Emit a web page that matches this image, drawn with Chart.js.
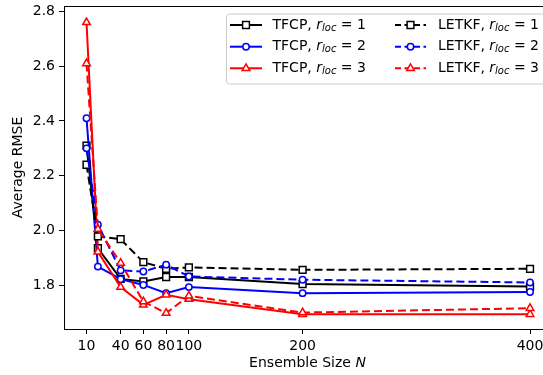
<!DOCTYPE html>
<html>
<head>
<meta charset="utf-8">
<script src="https://cdn.jsdelivr.net/npm/chart.js@4/dist/chart.umd.min.js"></script>
<style>
html, body { margin: 0; padding: 0; overflow: hidden; background: #fff; }
#wrap { width: 543px; height: 375px; }
</style>
</head>
<body>
<div id="wrap"><canvas id="c" width="543" height="375"></canvas></div>
<script>
// data
const ensembleSizes = [10, 20, 40, 60, 80, 100, 200, 400];
const xTicks = [10, 40, 60, 80, 100, 200, 400];
const yTicks = [1.8, 2.0, 2.2, 2.4, 2.6, 2.8];

const tfcpR1 = [2.31, 1.935, 1.823, 1.814, 1.830, 1.830, 1.804, 1.795];
const tfcpR2 = [2.41, 1.868, 1.822, 1.801, 1.771, 1.793, 1.771, 1.775];
const tfcpR3 = [2.76, 1.922, 1.793, 1.728, 1.765, 1.749, 1.694, 1.694];
const letkfR1 = [2.24, 1.978, 1.968, 1.884, 1.860, 1.865, 1.856, 1.860];
const letkfR2 = [2.30, 2.021, 1.854, 1.850, 1.875, 1.832, 1.820, 1.810];
const letkfR3 = [2.61, 2.005, 1.881, 1.740, 1.698, 1.761, 1.700, 1.716];

const methods = ['TFCP', 'TFCP', 'TFCP', 'LETKF', 'LETKF', 'LETKF'];
const rlocs = [1, 2, 3, 1, 2, 3];
const colors = ['#000000', '#0000ff', '#ff0000', '#000000', '#0000ff', '#ff0000'];
const markers = ['rect', 'circle', 'triangle', 'rect', 'circle', 'triangle'];
const radii = { rect: 4.8, circle: 3.2, triangle: 4.4 };
const seriesValues = [tfcpR1, tfcpR2, tfcpR3, letkfR1, letkfR2, letkfR3];

const FONT = '"DejaVu Sans", sans-serif';
const dash = [8, 4];

const datasets = seriesValues.map((vals, i) => ({
    label: methods[i] + ', r_loc = ' + rlocs[i],
    data: vals.map((v, j) => ({ x: ensembleSizes[j], y: v })),
    borderColor: colors[i],
    borderWidth: 2,
    borderDash: methods[i] === 'LETKF' ? dash : [],
    pointStyle: markers[i],
    pointRadius: radii[markers[i]],
    pointBorderWidth: 1.5,
    pointBorderColor: colors[i],
    pointBackgroundColor: '#ffffff',
    fill: false,
    tension: 0,
    order: 6 - i
}));

function drawMarker(ctx, style, x, y, color) {
    const r = radii[style];
    ctx.save();
    ctx.fillStyle = '#fff';
    ctx.strokeStyle = color;
    ctx.lineWidth = 1.5;
    ctx.setLineDash([]);
    ctx.beginPath();
    if (style === 'rect') {
        const s = r * Math.SQRT1_2;
        ctx.rect(x - s, y - s, 2 * s, 2 * s);
    } else if (style === 'circle') {
        ctx.arc(x, y, r, 0, Math.PI * 2);
    } else {
        const a = Math.PI / 180;
        ctx.moveTo(x, y - r);
        ctx.lineTo(x + Math.sin(120 * a) * r, y - Math.cos(120 * a) * r);
        ctx.lineTo(x + Math.sin(240 * a) * r, y - Math.cos(240 * a) * r);
        ctx.closePath();
    }
    ctx.fill();
    ctx.stroke();
    ctx.restore();
}

// method, italic r, subscript loc, " = n"
function drawRlocLabel(ctx, method, n, x, y) {
    ctx.textBaseline = 'middle';
    ctx.textAlign = 'left';
    ctx.fillStyle = '#000';
    ctx.font = '14px ' + FONT;
    let t = method + ', ';
    ctx.fillText(t, x, y);
    x += ctx.measureText(t).width;
    ctx.font = 'italic 14px ' + FONT;
    ctx.fillText('r', x, y);
    x += ctx.measureText('r').width;
    ctx.font = 'italic 10px ' + FONT;
    ctx.fillText('loc', x, y + 3);
    x += ctx.measureText('loc').width;
    ctx.font = '14px ' + FONT;
    ctx.fillText(' = ' + n, x, y);
}

const extras = {
    id: 'extras',
    afterDraw(chart) {
        const ctx = chart.ctx;
        const a = chart.chartArea;
        ctx.save();

        // top frame line (right spine falls outside the picture)
        ctx.strokeStyle = '#000';
        ctx.lineWidth = 1;
        ctx.beginPath();
        ctx.moveTo(a.left, a.top + 0.5);
        ctx.lineTo(a.right, a.top + 0.5);
        ctx.stroke();

        // y title
        ctx.save();
        ctx.translate(18.5, (a.top + a.bottom) / 2);
        ctx.rotate(-Math.PI / 2);
        ctx.font = '14px ' + FONT;
        ctx.fillStyle = '#000';
        ctx.textAlign = 'center';
        ctx.textBaseline = 'middle';
        ctx.fillText('Average RMSE', 0, 0);
        ctx.restore();

        // x title with italic N, centred on the full axes box
        ctx.font = '14px ' + FONT;
        const w1 = ctx.measureText('Ensemble Size ').width;
        ctx.font = 'italic 14px ' + FONT;
        const w2 = ctx.measureText('N').width;
        let xs = 307.5 - (w1 + w2) / 2;
        ctx.fillStyle = '#000';
        ctx.textBaseline = 'middle';
        ctx.textAlign = 'left';
        ctx.font = '14px ' + FONT;
        ctx.fillText('Ensemble Size ', xs, 363);
        ctx.font = 'italic 14px ' + FONT;
        ctx.fillText('N', xs + w1, 363);

        // legend
        const bx = 226, by = 13.5, bw = 340, bh = 70;
        ctx.beginPath();
        ctx.roundRect(bx + 0.5, by + 0.5, bw, bh, 3);
        ctx.fillStyle = 'rgba(255,255,255,0.8)';
        ctx.fill();
        ctx.strokeStyle = '#cccccc';
        ctx.lineWidth = 1;
        ctx.stroke();

        const rows = [25, 46.7, 68.3];
        const cols = [{ x0: 230, x1: 262, tx: 272.5 }, { x0: 395, x1: 426, tx: 438 }];
        for (let i = 0; i < 6; i++) {
            const c = cols[Math.floor(i / 3)];
            const y = rows[i % 3];
            ctx.save();
            ctx.strokeStyle = colors[i];
            ctx.lineWidth = 2;
            ctx.setLineDash(methods[i] === 'LETKF' ? [6, 3.5] : []);
            ctx.beginPath();
            ctx.moveTo(c.x0, y);
            ctx.lineTo(c.x1, y);
            ctx.stroke();
            ctx.restore();
            drawMarker(ctx, markers[i], (c.x0 + c.x1) / 2, y, colors[i]);
            drawRlocLabel(ctx, methods[i], rlocs[i], c.tx, y);
        }
        ctx.restore();
    }
};

new Chart(document.getElementById('c'), {
    type: 'line',
    data: { datasets },
    options: {
        responsive: false,
        animation: false,
        devicePixelRatio: 1,
        layout: { autoPadding: false, padding: { top: 6, right: 0, left: 0, bottom: 0 } },
        plugins: {
            legend: { display: false },
            tooltip: { enabled: false }
        },
        scales: {
            x: {
                type: 'linear',
                min: -9.8,
                max: 411.4,
                afterBuildTicks: (scale) => { scale.ticks = xTicks.map(v => ({ value: v })); },
                afterFit: (scale) => {
                    scale.height = 46;
                    scale.paddingLeft = 0;
                    scale.paddingRight = 0;
                },
                ticks: {
                    autoSkip: false,
                    maxRotation: 0,
                    minRotation: 0,
                    padding: 4,
                    color: '#000',
                    font: { family: FONT, size: 14 },
                    callback: (v) => String(v)
                },
                grid: { drawOnChartArea: false, drawTicks: true, tickLength: 5, tickWidth: 1, tickColor: '#000' },
                border: { display: true, color: '#000', width: 1 }
            },
            y: {
                type: 'linear',
                min: 1.64,
                max: 2.82,
                afterBuildTicks: (scale) => { scale.ticks = yTicks.map(v => ({ value: v })); },
                afterFit: (scale) => {
                    scale.width = 64;
                    scale.paddingTop = 0;
                    scale.paddingBottom = 0;
                },
                ticks: {
                    padding: 4,
                    color: '#000',
                    font: { family: FONT, size: 14 },
                    callback: (v) => Number(v).toFixed(1)
                },
                grid: { drawOnChartArea: false, drawTicks: true, tickLength: 5, tickWidth: 1, tickColor: '#000' },
                border: { display: true, color: '#000', width: 1 }
            }
        }
    },
    plugins: [extras]
});
</script>
</body>
</html>
